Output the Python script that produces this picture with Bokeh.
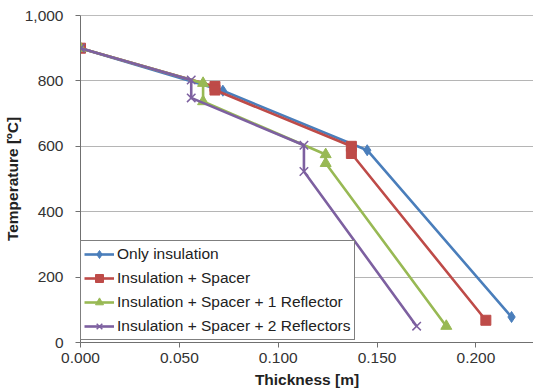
from bokeh.plotting import figure
from bokeh.models import Range1d, NumeralTickFormatter, FixedTicker, Legend, LegendItem, Span
from bokeh.embed import file_html
from bokeh.resources import INLINE

# Data
x_only = [0.0, 0.072, 0.145, 0.218]
y_only = [900, 770, 588, 78]

x_spacer = [0.0, 0.068, 0.068, 0.137, 0.137, 0.205]
y_spacer = [900, 783, 772, 600, 578, 68]

x_ref1 = [0.0, 0.062, 0.062, 0.124, 0.124, 0.185]
y_ref1 = [900, 793, 737, 575, 548, 50]

x_ref2 = [0.0, 0.056, 0.056, 0.113, 0.113, 0.170]
y_ref2 = [900, 803, 748, 603, 523, 50]

names = ["Only insulation", "Insulation + Spacer",
         "Insulation + Spacer + 1 Reflector", "Insulation + Spacer + 2 Reflectors"]
colors = ["#4A7EBB", "#BE4B48", "#98B954", "#7D60A0"]

x_ticks = [0.0, 0.05, 0.1, 0.15, 0.2]
y_ticks = [0, 200, 400, 600, 800, 1000]

FONT = "Liberation Sans"

p = figure(width=533, height=391, output_backend="svg", toolbar_location=None,
           x_range=Range1d(0, 0.2291), y_range=Range1d(0, 1000),
           min_border_left=77, min_border_right=0, min_border_top=15, min_border_bottom=49)
p.outline_line_color = None
p.background_fill_color = "white"
p.border_fill_color = "white"

p.xgrid.visible = False
p.ygrid.grid_line_color = "#b5b5b5"
p.ygrid.grid_line_width = 1
p.add_layout(Span(location=1000, dimension="width", line_color="#7a7a7a", line_width=1.2))

for ax in (p.xaxis[0], p.yaxis[0]):
    ax.axis_line_color = "#707070"
    ax.major_tick_line_color = "#707070"
    ax.minor_tick_line_color = None
    ax.major_tick_out = 5
    ax.major_tick_in = 0
    ax.major_label_text_font = FONT
    ax.major_label_text_font_size = "15.5px"
    ax.major_label_text_color = "#333333"
    ax.axis_label_text_font = FONT
    ax.axis_label_text_font_size = "15.5px"
    ax.axis_label_text_font_style = "bold"
    ax.axis_label_text_color = "#222222"

p.xaxis.ticker = FixedTicker(ticks=x_ticks)
p.xaxis.formatter = NumeralTickFormatter(format="0.000")
p.xaxis.axis_label = "Thickness [m]"
p.xaxis.major_label_standoff = 5
p.xaxis.axis_label_standoff = 5

p.yaxis.ticker = FixedTicker(ticks=y_ticks)
p.yaxis.formatter = NumeralTickFormatter(format="0,0")
p.yaxis.axis_label = "Temperature [ºC]"
p.yaxis.major_label_standoff = 12
p.yaxis.axis_label_standoff = 1

items = []
series = [(x_only, y_only), (x_spacer, y_spacer), (x_ref1, y_ref1), (x_ref2, y_ref2)]
for i, ((xs, ys), name, c) in enumerate(zip(series, names, colors)):
    ln = p.line(xs, ys, line_color=c, line_width=2.6)
    if i == 0:
        mk = p.scatter(xs, ys, marker="diamond", size=11, fill_color=c, line_color=c)
    elif i == 1:
        mk = p.scatter(xs, ys, marker="square", size=10, fill_color=c, line_color=c)
    elif i == 2:
        mk = p.scatter(xs, ys, marker="triangle", size=11, fill_color=c, line_color=c)
    else:
        mk = p.scatter(xs, ys, marker="x", size=12, line_color=c, line_width=1.5)
    items.append(LegendItem(label=name, renderers=[ln, mk]))

legend = Legend(items=items, location=(0, 2))
legend.label_text_font = FONT
legend.label_text_font_size = "15.5px"
legend.label_text_color = "#222222"
legend.border_line_color = "black"
legend.border_line_width = 1
legend.background_fill_color = "white"
legend.background_fill_alpha = 1
legend.glyph_width = 30
legend.glyph_height = 20
legend.label_height = 20
legend.label_standoff = 3
legend.spacing = 4
legend.padding = 3
legend.margin = 0
p.add_layout(legend)

open("out.html", "w").write(file_html(p, INLINE))
